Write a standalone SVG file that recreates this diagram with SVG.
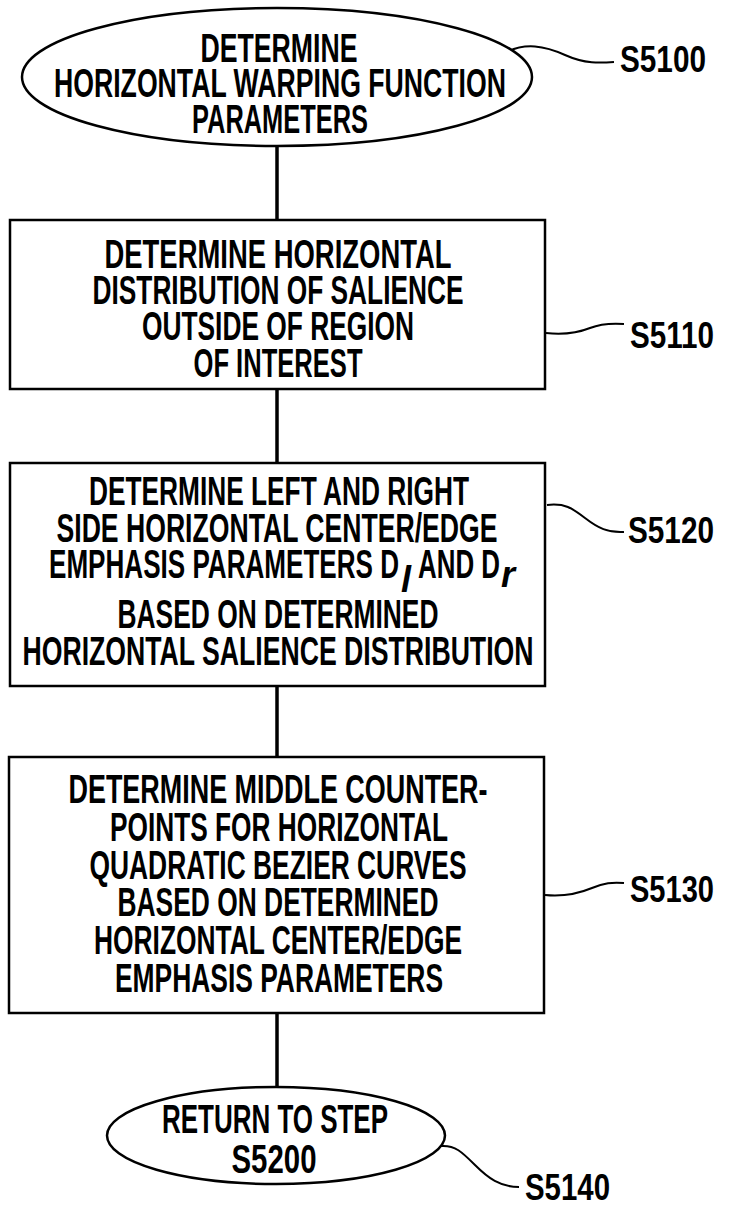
<svg xmlns="http://www.w3.org/2000/svg" width="731" height="1205" viewBox="0 0 731 1205">
<style>
.shape{fill:#fff;stroke:#000;stroke-width:2.5}
.conn{stroke:#000;stroke-width:3.5;fill:none}
.lead{stroke:#000;stroke-width:2;fill:none}
text{font-family:"Liberation Sans",Arial,sans-serif;font-weight:bold;font-size:40px;fill:#000}
.c{text-anchor:middle}
.lbl{font-size:37px}
.sub{font-style:italic;font-size:36px}
</style>
<rect width="731" height="1205" fill="#fff"/>
<g id="connectors">
<line class="conn" x1="277" y1="146" x2="277" y2="220"/>
<line class="conn" x1="277" y1="389" x2="277" y2="463"/>
<line class="conn" x1="277" y1="686" x2="277" y2="757"/>
<line class="conn" x1="277" y1="1013" x2="277" y2="1087"/>
<path class="lead" d="M505,53 C525,42 545,46 565,55 S600,63 614,62"/>
<path class="lead" d="M546,333 C565,335 580,332 590,328 S610,323 624,324"/>
<path class="lead" d="M547,505 C565,503 572,508 585,518 S608,533 624,532"/>
<path class="lead" d="M545,895 C565,897 580,893 592,888 S612,882 624,883"/>
<path class="lead" d="M441,1146 C455,1145 462,1152 475,1165 S500,1187 519,1187"/>
</g>
<g id="S5100">
<ellipse class="shape" cx="277" cy="77" rx="255" ry="69"/>
<text class="c" x="279" y="62" textLength="157" lengthAdjust="spacingAndGlyphs">DETERMINE</text>
<text class="c" x="280" y="97" textLength="452" lengthAdjust="spacingAndGlyphs">HORIZONTAL WARPING FUNCTION</text>
<text class="c" x="280" y="133" textLength="176" lengthAdjust="spacingAndGlyphs">PARAMETERS</text>
<text class="lbl" x="620" y="72" textLength="86" lengthAdjust="spacingAndGlyphs">S5100</text>
</g>
<g id="S5110">
<rect class="shape" x="10" y="220" width="535" height="169"/>
<text class="c" x="278" y="268" textLength="347" lengthAdjust="spacingAndGlyphs">DETERMINE HORIZONTAL</text>
<text class="c" x="278" y="304" textLength="371" lengthAdjust="spacingAndGlyphs">DISTRIBUTION OF SALIENCE</text>
<text class="c" x="278" y="340" textLength="272" lengthAdjust="spacingAndGlyphs">OUTSIDE OF REGION</text>
<text class="c" x="278" y="377" textLength="169" lengthAdjust="spacingAndGlyphs">OF INTEREST</text>
<text class="lbl" x="630" y="348" textLength="84" lengthAdjust="spacingAndGlyphs">S5110</text>
</g>
<g id="S5120">
<rect class="shape" x="10" y="463" width="535" height="223"/>
<text class="c" x="279" y="505" textLength="380" lengthAdjust="spacingAndGlyphs">DETERMINE LEFT AND RIGHT</text>
<text class="c" x="277" y="542" textLength="441" lengthAdjust="spacingAndGlyphs">SIDE HORIZONTAL CENTER/EDGE</text>
<text x="49" y="578" textLength="350" lengthAdjust="spacingAndGlyphs">EMPHASIS PARAMETERS D</text>
<text class="sub" x="401" y="592" textLength="10" lengthAdjust="spacingAndGlyphs">l</text>
<text x="418" y="578" textLength="82" lengthAdjust="spacingAndGlyphs">AND D</text>
<text class="sub" x="501" y="587" textLength="14" lengthAdjust="spacingAndGlyphs">r</text>
<text class="c" x="278" y="628" textLength="321" lengthAdjust="spacingAndGlyphs">BASED ON DETERMINED</text>
<text class="c" x="278" y="665" textLength="511" lengthAdjust="spacingAndGlyphs">HORIZONTAL SALIENCE DISTRIBUTION</text>
<text class="lbl" x="628" y="543" textLength="86" lengthAdjust="spacingAndGlyphs">S5120</text>
</g>
<g id="S5130">
<rect class="shape" x="9" y="757" width="535" height="256"/>
<text class="c" x="278" y="803" textLength="419" lengthAdjust="spacingAndGlyphs">DETERMINE MIDDLE COUNTER-</text>
<text class="c" x="279" y="841" textLength="338" lengthAdjust="spacingAndGlyphs">POINTS FOR HORIZONTAL</text>
<text class="c" x="278" y="879" textLength="377" lengthAdjust="spacingAndGlyphs">QUADRATIC BEZIER CURVES</text>
<text class="c" x="278" y="916" textLength="321" lengthAdjust="spacingAndGlyphs">BASED ON DETERMINED</text>
<text class="c" x="278" y="954" textLength="368" lengthAdjust="spacingAndGlyphs">HORIZONTAL CENTER/EDGE</text>
<text class="c" x="279" y="992" textLength="328" lengthAdjust="spacingAndGlyphs">EMPHASIS PARAMETERS</text>
<text class="lbl" x="630" y="902" textLength="84" lengthAdjust="spacingAndGlyphs">S5130</text>
</g>
<g id="S5140">
<ellipse class="shape" cx="276" cy="1135.5" rx="169" ry="48.5"/>
<text class="c" x="275" y="1133" textLength="226" lengthAdjust="spacingAndGlyphs">RETURN TO STEP</text>
<text class="c" x="274" y="1173" textLength="85" lengthAdjust="spacingAndGlyphs">S5200</text>
<text class="lbl" x="525" y="1200" textLength="85" lengthAdjust="spacingAndGlyphs">S5140</text>
</g>
</svg>
